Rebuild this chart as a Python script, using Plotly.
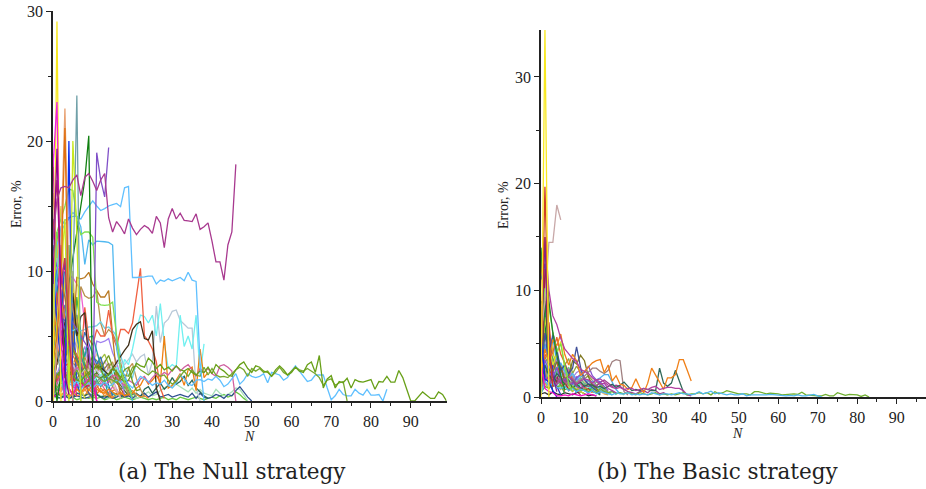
import plotly.graph_objects as go

# ---------- panel (a): The Null strategy ----------
a_purple = [12.4,15.5,16.4,16.5,16.4,17.0,17.4,15.8,17.2,17.5,16.9,16.2,17.0,17.5,14.1,13.0,13.8,13.4,12.85,14.0,13.3,12.8,13.2,13.5,13.3,12.9,14.2,13.7,11.8,14.0,14.8,14.0,14.45,13.9,13.85,13.8,14.4,13.2,13.4,13.7,12.3,10.7,10.7,9.3,12.0,13.0,18.2]
a_sky1 = [9.0,12.0,13.0,13.6,14.0,14.5,14.2,14.0,14.55,15.0,15.4,15.0,14.65,14.8,15.0,15.1,15.2,14.95,16.4,16.5,9.5,9.5,9.5,9.55,9.6,9.6,9.0,9.3,9.2,9.4,9.25,9.35,9.5,9.25,9.9,9.3,9.2,3.0,0.0]
a_sky2 = [6.0,10.0,13.4,13.9,14.1,14.2,14.2,13.4,10.5,12.4,12.0,12.3,12.3,12.25,12.2,12.0,4.0,2.5,2.0,1.2,0.0]
a_lgreen = [7.0,13.0,14.0,15.0,16.3,16.2,14.0,12.8,13.0,13.0,12.6,7.6,7.4,7.35,7.4,7.6,5.0,2.4,1.5,1.0,0.3]
a_dgreen = [3.0,0.0,2.0,5.0,9.0,11.0,13.0,15.0,17.0,20.4,0.0]
a_blue = [10.0,6.0,3.0,0.0,20.0,0.0]
a_violet = [0.0,4.0,6.5,5.5,6.2,6.0,5.5,5.0,4.5,4.0,0.0,19.1,17.0,15.7,19.5]
a_yellow = [0.0,29.2,0.0]
a_magenta = [18.0,23.0,5.0,0.0]
a_orange_l = [0.0,4.0,12.0,22.5,9.0,0.0]
a_orange = [3.0,5.0,9.0,21.0,5.0,0.5]
a_lime = [2.0,6.0,10.0,14.0,0.0,20.0,13.0,0.0]
a_steel = [1.0,4.0,2.0,0.0,3.0,9.0,23.5,0.0]
a_dpurple = [9.0,19.4,8.0,2.0,0.5]
a_wine = [13.0,17.0,9.0,11.0,5.0,2.0]
a_red = [4.0,3.0,5.0,4.5,5.2,4.0,3.5,3.0,7.2,4.8,4.3,5.5,5.0,5.0,7.0,5.0,4.2,5.5,5.5,5.2,6.0,8.0,10.2,5.0,4.6,4.0,3.0,1.0,0.2]
a_or_long = [1.0,2.0,1.5,2.5,1.0,0.5,0.9,0.6,1.1,0.8,1.3,1.2,0.7,0.6,0.9,0.7,0.5,0.6,0.4,0.5,0.6,1.0,1.2,1.8,1.3,1.6,2.0,1.4,5.0,1.0,1.2,1.6,2.1,1.2,2.4,2.6,0.8,4.0,1.8,2.2]
a_cyan = [0.5,1.0,1.2,1.4,1.6,1.5,1.3,1.6,1.4,1.3,1.5,1.8,2.0,2.3,1.9,2.1,2.6,1.9,3.2,2.8,4.0,5.5,6.6,6.5,6.0,6.6,5.0,7.5,4.5,2.5,2.8,2.6,6.6,4.2,5.0,4.0,6.6,2.0,4.4]
a_grey = [0.4,1.0,2.0,2.5,3.0,2.8,2.3,2.0,2.5,2.0,2.1,2.4,1.9,2.2,2.4,2.6,2.8,3.0,2.8,3.2,3.6,3.0,3.4,3.6,2.0,3.0,7.3,4.5,6.0,6.3,6.9,7.0,6.2,5.9,5.6,5.6,1.0,0.0]
a_sky3 = [3.0,5.0,5.5,5.8,5.6,5.4,5.6,5.4,5.5,5.7,5.7,5.8,6.1,5.6,5.7,5.4,5.0,3.5,2.5,2.0,1.8,3.0]
a_dbrown = [1.0,3.0,4.0,6.0,7.0,8.3,5.0,6.5,6.8,3.0,2.5,2.6,2.6,2.3,2.0,2.5,3.0,3.5,3.9,4.3,5.5,5.9,6.1,4.8,4.7,5.4,1.0,0.0]
a_brown = [5.0,8.0,9.2,8.0,6.0,4.5,9.5,9.4,9.5,9.9,9.0,8.5,8.0,8.0,8.5,5.0,2.0,0.5]
a_tan = [3.0,4.0,6.0,7.0,8.2,7.0,5.5,8.8,8.1,7.9,8.0,8.5,6.0,5.0,5.5,5.2,4.5,3.0,1.5,0.5]
a_pink = [9.5,10.3,10.2,10.0,9.6,9.5,9.0,8.5,6.0,4.0,1.5,0.0]
a_crim = [3.0,1.5,2.0,2.7,2.9,1.9,1.2,1.4,1.1,1.2,1.5,0.0]
a_hotpink = [0.3,0.5,1.0,1.5,1.0,0.4,1.3,1.0,1.4,1.7,1.9,0.0]
a_olive = [2.0,3.5,4.0,3.5,4.2,4.0,3.2,2.2,2.6,2.0,2.4,2.8,2.5,3.0,3.5,2.6,2.2,1.8,2.4,2.6,1.5,0.8,0.9]
a_olive2 = [1.0,2.0,2.4,1.8,2.2,1.9,1.6,1.5,1.9,2.2,2.5,2.6,2.4,1.8,2.1,2.5,2.3,1.7,1.5,1.6,2.2,2.9,2.7,2.6,3.3,3.0,2.5,2.8,2.4,2.6,2.3,2.7,2.4,2.3,2.5,2.2,2.0,2.3,2.2,2.6,2.1,2.8,2.5,2.3,2.0,1.9,2.4,2.8,3.0,2.5,2.2,2.7,2.6,2.3,2.2,1.9,2.4,2.7,2.4,2.0,2.2,2.6,2.3,2.2,2.8,3.0,2.2,3.5,1.0,1.7,1.95,1.0,1.5,1.4,1.75,1.0,1.65,1.5,1.45,1.55,1.65,0.9,1.5,1.45,1.9,1.45,1.45,2.35,1.8,0.9,0.0,0.0,0.35,0.7,0.45,0.2,0.2,0.7,0.5,0.0]
a_olive3 = [0.5,1.0,1.6,2.0,1.5,1.8,2.4,1.7,1.2,1.6,2.0,1.9,1.7,1.5,1.7,1.6,1.4,1.8,2.0,1.9,2.6,2.7,2.4,2.2,2.0,2.3,2.2,1.9,2.0,1.6,1.3,1.5,1.9,2.3,1.9,2.4,2.0,1.9,2.6,2.0,2.5,2.0,1.85,1.9,1.8,2.1,2.4,2.6,2.4,1.9,2.5,2.3,2.5,2.2,2.3,1.9,2.2,2.6,2.2,2.0,2.3,2.6,2.4,2.3,2.5,2.3,2.1,1.8,1.2,1.6,1.7,1.2,1.4,1.5,0.0]
a_sky_long = [0.5,1.0,1.2,0.9,1.4,1.1,1.6,0.9,1.2,1.4,1.0,1.3,1.2,1.5,1.1,1.3,1.6,1.4,1.7,1.3,1.0,1.5,1.9,1.7,1.5,1.2,1.4,1.3,1.6,1.2,1.0,1.4,2.0,1.7,1.3,1.2,1.6,1.65,1.5,1.7,1.6,1.9,1.6,1.1,1.3,1.7,2.1,1.3,1.6,2.1,1.9,1.8,1.9,2.1,1.4,2.2,2.1,2.0,1.6,1.8,2.3,2.7,2.3,1.9,1.5,1.6,2.0,2.0,2.0,1.0,0.1,0.4,0.9,0.5,0.4,0.4,0.9,0.6,0.45,0.9,0.45,0.45,0.5,0.0,0.9]
a_magenta2 = [0.6,1.4,2.0,2.3,1.8,2.1,2.6,2.2,1.8,1.3,1.7,2.0,1.6,1.2,1.5,2.0,1.9,1.5,1.2,1.6,1.4,1.2,1.7,1.9,1.4,1.8,2.1,1.9,2.2,2.0,2.4,2.7,2.3,2.6,2.8,2.4,1.9,2.5,2.2,2.5,2.1,1.9,2.7,2.8,2.6,2.3,0.0]
a_teal = [0.3,0.6,0.4,0.3,0.5,0.3,0.6,0.5,0.4,0.6,0.4,0.5,0.3,0.4,0.3,0.5,0.6,0.3,0.5,0.4,0.5,0.6,0.3,0.9,1.1,0.6,1.0,1.4,0.9,1.2,1.8,1.3,1.5,1.9,1.2,1.6,1.0,0.7,0.4,0.2]
a_navy = [0.5,0.3,0.2,0.4,0.2,0.3,0.4,0.3,0.2,0.3,0.4,0.5,0.3,0.2,0.4,0.2,0.3,0.5,0.3,0.4,0.2,0.5,0.4,0.6,0.3,0.5,0.7,0.3,0.4,0.5,0.3,0.4,0.5,0.4,0.3,0.6,0.2,0.6,0.3,0.2,0.3,0.5,0.4,0.2,0.5,0.4,0.8,1.1,0.7,0.3,0.0]
a_mint = [0.2,0.4,0.6,0.3,0.5,0.4,0.6,0.7,0.4,0.5,0.3,0.5,0.4,0.3,0.2,0.3,0.4,0.5,0.3,0.4,0.3,0.2,0.3,0.5,0.7,0.4,0.5,0.8,1.0,1.2,1.0,1.3,1.1,0.9,0.7,1.0,0.6,0.9,0.6,0.5,0.4,0.9,0.6,0.4,0.5,0.7,1.0,0.9,0.4,0.0]
a_gr_low = [0.4,0.2,0.3,0.4,0.2,0.3,0.1,0.2,0.3,0.2,0.3,0.2,0.3,0.1,0.2,0.3,0.1,0.2,0.3,0.2,0.1,0.2,0.3,0.2,0.1,0.2,0.1,0.2,0.3,0.1,0.2,0.1,0.3,0.2,0.1,0.2,0.3,0.2,0.1,0.2,0.3,0.2,0.4,0.5,0.3,0.4,0.7,0.5,0.2,0.0]
a_or2 = [0.5,1.2,0.8,1.5,0.9,0.6,1.0,0.7,0.4,0.9,0.6,0.5,1.0,0.7,0.4,0.8,0.9,0.4,0.3,0.6,0.2]
a_or3 = [4.0,7.0,7.5,6.5,4.8,3.5,2.9,2.2,2.4,1.8,1.1,0.9,0.7,0.9,0.4,0.2]
a_peach = [2.0,3.0,3.4,2.8,2.2,3.1,2.7,3.5,2.6,2.2,3.0,3.6,3.2,2.5,1.9,1.3,0.7,0.3]
a_lav = [1.0,2.0,3.0,2.2,3.5,2.8,2.1,3.2,4.2,3.1,2.4,4.6,4.5,4.6,4.8,3.7,3.0,1.8,0.5]
a_forest = [0.2,1.2,2.8,1.8,2.5,1.7,2.3,1.6,1.1,1.5,1.9,2.2,1.8,2.0,1.4,2.6,1.6,1.2,0.8,0.4]
a_seag = [1.5,0.8,1.6,2.4,1.3,1.8,1.0,1.5,2.2,1.7,1.2,1.5,1.8,1.3,1.0,0.6,0.3]
a_drab = [0.8,1.7,2.2,3.6,2.3,1.5,3.3,2.6,2.0,2.9,3.4,3.1,2.7,2.5,2.9,1.9,1.5,1.6,1.8,0.8,0.2]
a_indigo = [6.5,4.8,6.4,6.2,5.8,4.5,3.3,2.6,1.5,0.6,0.2]
a_teal2 = [11.0,8.5,7.0,5.5,4.0,6.0,5.0,3.5,2.6,2.0,1.2,0.5]
a_gold = [8.0,12.5,8.0,4.5,6.5,9.0,5.5,4.0,2.0,0.6,0.0]
a_x1 = [14.0,9.0,6.0,11.0,3.0,7.0,1.5,0.3]
a_x2 = [19.0,7.0,12.0,4.0,9.5,2.0,0.4]
a_x3 = [16.0,11.0,15.0,8.0,5.0,10.0,4.5,1.0,0.2]
a_x4 = [10.0,13.0,6.5,9.0,12.0,3.5,8.0,5.0,2.5,0.5]
a_x5 = [7.0,9.5,8.5,3.2,6.0,7.5,5.2,3.0,1.8,3.6,2.4,0.6]
a_x6 = [5.0,4.0,6.8,5.4,3.6,4.8,4.2,3.0,3.8,2.9,3.3,2.6,2.2,3.1,2.4,1.7,0.9,0.2]
a_x7 = [2.5,3.8,2.9,4.4,3.4,2.6,3.7,2.4,3.0,1.9,2.7,2.2,3.2,3.6,2.8,1.4,1.9,2.4,1.2,0.5]
a_x8 = [1.2,2.2,1.6,2.9,1.9,2.5,1.4,2.0,1.2,1.8,2.3,1.6,1.1,1.5,1.9,1.2,1.6,0.9,1.1,0.6,0.3]
a_x9 = [0.8,1.6,0.7,1.3,2.1,1.1,0.9,1.5,0.8,1.2,0.7,1.0,1.4,0.9,0.6,1.1,0.7,0.5,0.8,0.4,0.6,0.3]
a_x10 = [3.5,6.0,4.2,7.4,5.5,8.0,6.2,4.0,5.3,4.4,3.6,2.8,3.4,2.2,1.2,0.4]
a_x11 = [12.0,10.0,7.8,9.0,7.2,5.2,6.6,4.6,3.4,4.9,5.0,3.9,2.7,1.6,0.4]
a_x12 = [6.0,8.8,5.6,3.0,4.6,2.4,3.6,1.9,2.8,2.0,3.1,2.5,3.0,2.3,1.7,1.9,1.4,1.0,0.5]
a_x13 = [0.6,0.9,0.4,0.8,0.3,0.6,0.4,0.5,0.9,0.5,0.3,0.6,0.8,0.4,0.6,0.3,0.5,0.7,0.4,0.6,0.8,0.5,0.3,0.4,0.2]
a_x14 = [1.8,0.9,1.4,1.1,2.0,1.4,1.7,1.0,1.5,1.1,1.9,1.3,1.6,2.1,1.8,1.1,2.2,1.5,1.0,1.2,0.6,0.3]
a_x15 = [4.2,2.8,3.4,2.0,1.3,2.6,1.7,2.2,3.4,2.5,1.6,2.1,2.9,2.0,2.6,3.0,1.8,2.3,1.6,2.5,2.9,1.7,0.9,0.3]

# ---------- panel (b): The Basic strategy ----------
b_yellow = [0.0,34.4,0.0]
b_tan = [6.0,9.0,14.5,14.5,18.0,16.6]
b_red = [3.0,19.7,5.0,1.0]
b_dpurple = [4.0,15.0,4.0,2.0,0.5]
b_purple = [6.0,15.0,10.0,7.6,6.8,5.5,4.5,4.0,3.6,3.3,2.6,2.4,2.2,1.8,1.5,1.2,1.3,0.8,0.6,0.4]
b_green = [13.0,14.5,9.0,6.0,4.0,2.0,0.7]
b_lime = [5.0,10.2,8.5,6.0,4.2,5.0,3.0,1.2,0.5]
b_orange = [2.0,4.5,3.2,5.4,4.8,5.9,4.0,3.0,4.0,3.4,2.0,2.4,2.7,3.2,3.4,3.5,2.3,3.0,1.5,2.0,1.2,1.1,0.7,0.9,1.7,0.9,0.4,1.3,2.7,2.1,1.4,0.7,1.8,1.8,2.1,3.5,3.5,2.5,1.5]
b_teal = [1.0,3.0,2.0,1.5,2.2,1.8,1.4,1.9,1.5,1.2,1.4,1.0,1.2,1.1,0.9,1.0,0.8,1.0,1.2,0.9,1.1,1.4,1.0,0.6,0.7,0.6,0.8,0.7,0.6,0.6,2.7,1.3,1.0,1.3,2.5,1.5,0.5,0.2]
b_mauve = [0.5,2.5,1.0,1.6,1.2,1.9,1.4,1.1,1.7,1.3,1.6,2.0,2.3,2.7,2.7,2.4,2.2,2.5,3.3,3.5,3.4,0.5,0.2]
b_navy = [1.5,6.0,3.0,6.0,4.5,2.5,3.0,2.2,2.7,4.7,2.8,1.6,1.2,0.9,0.6,0.3]
b_olive = [0.5,2.0,3.2,2.4,3.3,2.8,1.7,2.0,3.4,3.1,3.9,3.4,1.9,1.1,0.8,0.4]
b_violet = [1.0,3.5,2.4,1.8,2.8,1.5,1.7,1.4,1.2,1.8,2.1,2.3,2.9,2.0,1.6,1.4,1.0,0.6]
b_sky = [2.5,5.0,3.0,2.0,2.6,3.2,2.4,1.8,2.2,1.6,2.0,1.7,1.5,1.4,1.6,1.8,2.1,2.1,1.4,0.7,0.3]
b_blue = [6.0,1.7,1.4,0.6,0.0]
b_magenta = [3.0,0.8,0.5,0.4,0.1,0.1,0.2,0.1,0.3,0.2,0.1,0.2,0.3,0.2,0.1]
b_hot = [2.5,1.6,1.9,1.0,1.2,1.8,1.4,1.9,1.6,1.2,1.5,1.7,1.6,1.3,1.6,1.7,1.4,1.1,0.9,0.8,0.9,0.7,0.8,0.8,0.6,0.7,0.8,0.7,0.9,1.0,0.7,0.8,0.9,0.9,0.8,0.8,0.6,0.2,0.1]
b_plum = [1.0,1.5,2.0,2.4,1.7,1.3,1.6,1.1,1.4,1.0,0.8,1.1,1.0,1.2,1.0,1.4,1.6,1.3,1.0,1.1,1.0,0.7,0.5,0.4,0.3,0.5,0.6,0.4,0.7,0.6,0.3,0.4,0.2]
b_long_g = [0.4,1.0,0.8,1.2,0.9,1.1,0.7,0.8,0.9,0.7,0.6,0.7,0.5,0.6,0.4,0.8,0.5,0.4,0.5,0.3,0.4,0.3,0.4,0.3,0.2,0.4,0.3,0.2,0.3,0.4,0.2,0.3,0.2,0.3,0.2,0.3,0.4,0.2,0.3,0.3,0.4,0.3,0.4,0.2,0.5,0.3,0.4,0.6,0.5,0.4,0.3,0.3,0.3,0.2,0.5,0.5,0.4,0.3,0.35,0.35,0.3,0.2,0.25,0.3,0.3,0.25,0.45,0.2,0.15,0.1,0.1,0.1,0.25,0.1,0.1,0.4,0.3,0.15,0.25,0.2,0.2,0.05,0.2,0.0]
b_long_s = [0.3,1.5,1.0,1.3,0.9,0.8,1.0,0.6,0.8,0.5,0.7,0.6,0.4,0.6,0.3,0.5,0.4,0.3,0.2,0.4,0.3,0.3,0.4,0.2,0.3,0.2,0.3,0.2,0.4,0.3,0.2,0.3,0.3,0.2,0.3,0.4,0.3,0.3,0.2,0.3,0.5,0.3,0.4,0.55,0.3,0.4,0.3,0.2,0.3,0.2,0.2,0.3,0.1,0.2,0.2,0.2,0.15,0.2,0.25,0.2,0.15,0.1,0.1,0.15,0.1,0.2,0.1,0.1,0.2,0.25,0.1,0.0]
b_cyan = [0.5,3.2,2.0,1.5,2.3,1.8,3.2,2.1,1.3,0.9,1.4,1.0,0.7,1.2,0.6,0.9,0.5,0.3,0.6,0.2]
b_gold = [0.2,7.5,5.0,3.0,4.0,5.2,2.6,1.4,1.0,0.7,0.5,0.3]
b_lav = [0.6,2.2,3.0,2.2,3.5,2.6,1.9,1.5,1.8,2.3,2.5,1.9,1.2,1.5,1.0,0.8,0.5,0.3]
b_peach = [0.4,2.6,1.7,2.3,1.5,1.2,2.1,1.0,0.9,1.3,1.7,1.4,1.1,1.5,0.9,0.5,0.3]
b_forest = [0.3,9.0,4.0,2.0,1.4,1.8,1.2,1.6,0.8,1.2,0.9,0.6,0.8,0.5,0.4,0.2]
b_seag = [1.0,1.8,2.6,1.9,1.4,1.1,0.9,1.4,1.1,1.3,0.8,1.0,0.7,0.9,0.7,1.1,0.5,0.4,0.2]
b_brick = [0.8,4.0,3.5,4.2,5.6,4.0,3.2,2.2,1.7,1.2,1.4,0.9,0.7,0.4]
b_wine = [0.2,12.0,3.0,1.0,1.5,2.8,1.5,0.6,0.9,0.5,0.2]
b_mint = [0.5,1.0,1.4,1.0,1.2,0.9,1.5,1.1,0.9,1.0,0.7,0.9,1.0,0.6,0.8,0.5,0.7,0.4,0.6,0.3,0.4,0.2]
b_dark = [0.3,0.4,0.2,0.5,0.3,0.2,0.4,0.3,0.2,0.4,0.5,0.3,0.1,0.2,0.1]
b_x1 = [14.0,7.0,3.0,0.4]
b_x2 = [11.0,12.5,6.0,2.5,1.0,0.2]
b_x3 = [9.0,8.0,4.5,3.6,2.0,1.2,0.3]
b_x4 = [13.0,5.5,7.0,2.8,3.4,1.6,0.5]
b_x5 = [7.5,10.0,6.2,4.4,2.4,3.0,1.4,0.6]
b_x6 = [4.5,6.5,4.8,5.6,3.2,2.2,2.8,1.5,1.1,0.4]
b_x7 = [3.5,4.6,3.8,2.6,3.9,2.9,2.0,2.6,1.7,1.9,1.2,0.7,0.3]
b_x8 = [2.0,3.0,2.4,3.2,2.1,2.7,1.8,2.3,1.5,1.1,1.6,1.3,1.0,0.6,0.8,0.4]
b_x9 = [1.4,2.1,1.6,1.1,1.9,1.3,1.7,1.0,1.3,0.9,1.2,0.8,1.1,0.7,0.9,0.6,0.4]
b_x10 = [0.9,1.3,0.8,1.5,1.0,0.7,1.2,0.8,0.5,0.9,0.6,0.8,0.5,0.7,0.4,0.6,0.3,0.2]
b_x11 = [1.9,3.8,2.9,3.3,4.1,2.4,3.0,3.6,2.2,2.9,2.3,1.7,2.0,1.6,1.1,1.3,0.8,0.5]
b_x12 = [0.7,2.8,1.4,2.0,2.5,1.7,2.2,2.8,1.9,1.4,1.8,1.2,1.5,1.0,1.4,1.2,0.7,0.3]

a_series = [
 (a_gr_low,"#68c840"),(a_or2,"#f08820"),(a_mint,"#a8e0b8"),(a_navy,"#305090"),(a_teal,"#286858"),
 (a_x9,"#e060a0"),(a_x8,"#40a080"),(a_x7,"#a0c040"),(a_x6,"#d0a0e0"),(a_x12,"#b05020"),
 (a_x13,"#f09030"),(a_x14,"#60b860"),(a_x15,"#c09050"),
 (a_peach,"#e8c090"),(a_seag,"#50b090"),(a_forest,"#508030"),(a_drab,"#908040"),(a_lav,"#a080f0"),
 (a_x10,"#3070c0"),(a_x5,"#c04080"),(a_x11,"#20a0a0"),(a_x4,"#40b040"),(a_x3,"#e0d040"),(a_x2,"#d02090"),(a_x1,"#2050d0"),
 (a_or3,"#e87820"),(a_gold,"#e0c030"),(a_teal2,"#3090a0"),(a_indigo,"#5050b0"),(a_pink,"#f060d0"),
 (a_tan,"#b89050"),(a_brown,"#b87820"),(a_sky3,"#70d0e0"),(a_grey,"#b8c8d8"),(a_cyan,"#70f0f0"),
 (a_red,"#f06040"),(a_or_long,"#f08010"),(a_dbrown,"#403018"),(a_crim,"#e02050"),(a_hotpink,"#f010c0"),
 (a_magenta2,"#d060a0"),(a_sky_long,"#60c0ff"),(a_olive3,"#78a830"),(a_olive2,"#68a018"),(a_olive,"#709820"),
 (a_sky2,"#50b8f0"),(a_sky1,"#60c0ff"),(a_lgreen,"#80e050"),(a_violet,"#8050c8"),(a_dgreen,"#108010"),
 (a_blue,"#1030f0"),(a_steel,"#70a0a8"),(a_lime,"#c8e820"),(a_orange_l,"#e8a070"),(a_orange,"#e07010"),
 (a_yellow,"#f8e820"),(a_magenta,"#f020e0"),(a_wine,"#c03060"),(a_dpurple,"#900090"),(a_purple,"#a8398f"),
]
b_series = [
 (b_dark,"#303030"),(b_mint,"#90e0c0"),(b_x10,"#e0a040"),(b_x9,"#40c0b0"),(b_x8,"#80d040"),(b_seag,"#40b090"),(b_peach,"#e8b880"),(b_cyan,"#60d8e8"),
 (b_x12,"#70c090"),(b_x11,"#90a040"),
 (b_x7,"#c060d0"),(b_x6,"#30a0d0"),(b_x5,"#c0d020"),(b_x4,"#e04030"),(b_x3,"#40b050"),(b_x2,"#3040c0"),(b_x1,"#108030"),
 (b_lav,"#a080e0"),(b_gold,"#d8e030"),(b_forest,"#208040"),(b_brick,"#e86030"),(b_wine,"#a02040"),
 (b_plum,"#a04090"),(b_sky,"#50b0f0"),(b_olive,"#807820"),(b_navy,"#405098"),(b_violet,"#8050d0"),
 (b_mauve,"#a08080"),(b_teal,"#306858"),(b_orange,"#f08018"),(b_hot,"#b040a0"),(b_long_g,"#70b030"),
 (b_long_s,"#50b8f0"),(b_blue,"#1020e8"),(b_magenta,"#f010c0"),(b_lime,"#80e040"),(b_green,"#208030"),
 (b_purple,"#b040a0"),(b_tan,"#c8a8a8"),(b_dpurple,"#802090"),(b_red,"#d04020"),(b_yellow,"#f8e820"),
]

W, H = 926, 489
ML, MR, MT, MB = 30, 0, 5, 5
PW, PH = W - ML - MR, H - MT - MB
fig = go.Figure()
for vals, col in a_series:
    fig.add_trace(go.Scatter(x=list(range(len(vals))), y=vals, mode="lines",
                             line=dict(color=col, width=1.3), xaxis="x", yaxis="y", showlegend=False))
for vals, col in b_series:
    fig.add_trace(go.Scatter(x=list(range(len(vals))), y=vals, mode="lines",
                             line=dict(color=col, width=1.3), xaxis="x2", yaxis="y2", showlegend=False))

font = "Liberation Serif"
def axis(**kw):
    return dict(showgrid=False, zeroline=False, showline=True, linecolor="#222222", linewidth=1.5,
                ticks="outside", ticklen=5, tickwidth=1, tickcolor="#222222", dtick=10, tick0=0,
                automargin=False,
                minor=dict(dtick=5, tick0=0, ticks="outside", ticklen=3, tickcolor="#222222", tickwidth=1),
                tickfont=dict(family=font, size=16, color="#222222"), **kw)
def xdom(a, b):
    return [(a - ML) / PW, (b - ML) / PW]
def ydom(top, bottom):
    return [(H - MB - bottom) / PH, (H - MB - top) / PH]

fig.update_layout(
    width=W, height=H, margin=dict(l=ML, r=MR, t=MT, b=MB), paper_bgcolor="white", plot_bgcolor="white",
    showlegend=False, hovermode=False,
    xaxis=axis(domain=xdom(53, 446.5), range=[0, 99], anchor="y"),
    yaxis=axis(domain=ydom(11, 401), range=[0, 30], anchor="x"),
    xaxis2=axis(domain=xdom(541, 926), range=[0, 97.4], anchor="y2"),
    yaxis2=axis(domain=ydom(30, 397), range=[0, 34.4], anchor="x2"),
)
def note(text, x, y, size, angle=0, family=font):
    fig.add_annotation(text=text, x=(x - ML)/PW, y=1-(y - MT)/PH, xref="paper", yref="paper", showarrow=False,
                       xanchor="center", yanchor="middle", textangle=angle,
                       font=dict(family=family, size=size, color="#222222"))
note("Error, %", 16, 204, 14, -90)
note("Error, %", 503, 205, 14, -90)
note("<i>N</i>", 249, 436, 14)
note("<i>N</i>", 737, 433, 14)
note("(a) The Null strategy", 232, 471, 21.5, family="DejaVu Serif")
note("(b) The Basic strategy", 717, 471, 21.5, family="DejaVu Serif")

fig.write_html("out.html", config={"displayModeBar": False},
               post_script="document.body.style.margin='0';")
